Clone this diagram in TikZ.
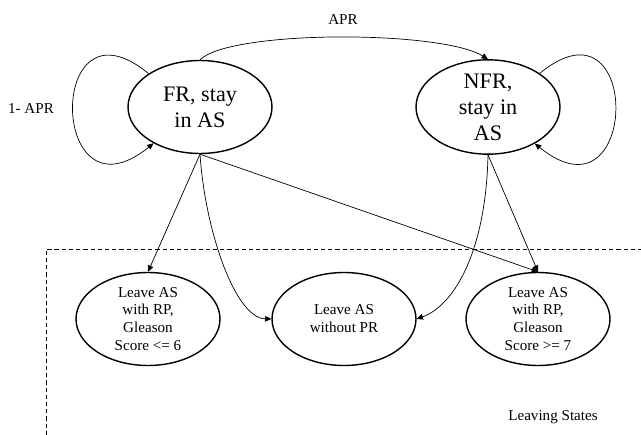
\documentclass[tikz,border=0pt]{standalone}
\usepackage{fontspec}
\setmainfont{Liberation Serif}
\usetikzlibrary{shapes.geometric}
\usetikzlibrary{arrows.meta}

\begin{document}
\begin{tikzpicture}[x=0.02cm,y=-0.02cm]
				\useasboundingbox (0,0) rectangle (641,435);
				\begin{scope}[every node/.style={ellipse,draw,line width=0.8pt,inner sep=0pt,
						minimum width=2.88cm,minimum height=1.86cm,align=center,
						font=\fontsize{8.6}{10.2}\selectfont}]
					\node[font=\fontsize{12.6}{14.8}\selectfont] (FR) at (200,107) {FR, stay\\in AS};
					\node[font=\fontsize{12.6}{14.8}\selectfont] (NFR) at (488,107) {NFR,\\stay in\\AS};
					\node (L1) at (148,319) {Leave AS\\with RP,\\Gleason\\Score <= 6};
					\node (L2) at (344,319) {Leave AS\\without PR};
					\node (L3) at (538,319) {Leave AS\\with RP,\\Gleason\\Score >= 7};
				\end{scope}
				
				\begin{scope}[font=\fontsize{8.6}{10.2}\selectfont]
					\node (apr) at (343,20) {APR};
					\node (stay) at (31,109) {1- APR};
					\node (leave) at (553,417) {Leaving States};
				\end{scope}
				
				\draw[line width=0.5pt,dash pattern=on 2.4pt off 1.7pt] (46,435) -- (46,249) -- (641,249);
				
				\begin{scope}[>={Triangle[length=3.6pt,width=3.2pt]},line width=0.4pt]
					\draw[->] (FR.north) .. controls (230,30) and (440,30) .. (NFR.north);%apr%
					\draw[->] (FR.147) .. controls +(-103,-85) and +(-105,85) .. (FR.218);%1-apr%
					\draw[->] (NFR.33) .. controls +(103,-85) and +(105,85) .. (NFR.322);
					
					\path [->] (FR.south) edge (L1.north);
					\draw[->] (FR.south) .. controls (205,230) and (235,318) .. (L2.west);
					\path [->] (FR.south) edge (L3.north);
					\draw[->] (NFR.south) .. controls (486,250) and (455,305) .. (L2.east);
					\path [->] (NFR.south) edge (L3.north);
				\end{scope}
			\end{tikzpicture}
\end{document}
